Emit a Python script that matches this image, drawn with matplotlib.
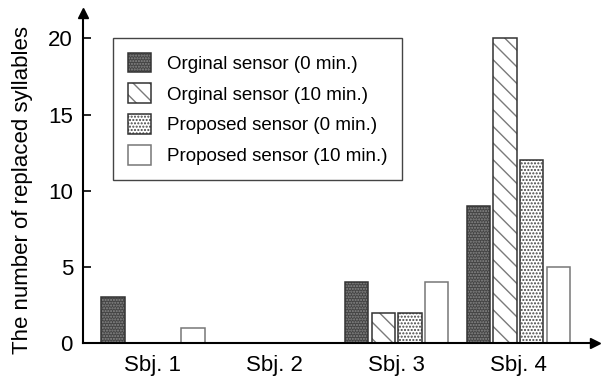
import matplotlib
matplotlib.use('Agg')
import matplotlib.pyplot as plt
import numpy as np
from matplotlib.patches import Patch
from matplotlib.legend_handler import HandlerTuple

# ============================================================
# Data: replaced syllables per subject and sensor condition
# ============================================================
subjects = ['Sbj. 1', 'Sbj. 2', 'Sbj. 3', 'Sbj. 4']
orig_0min = [3, 0, 4, 9]
orig_10min = [0, 0, 2, 20]
prop_0min = [0, 0, 2, 12]
prop_10min = [1, 0, 4, 5]
series_labels = ['Orginal sensor (0 min.)', 'Orginal sensor (10 min.)',
                 'Proposed sensor (0 min.)', 'Proposed sensor (10 min.)']
y_ticks = [0, 5, 10, 15, 20]

plt.rcParams['font.family'] = ['Liberation Sans', 'DejaVu Sans']
plt.rcParams['hatch.linewidth'] = 1.0

fig = plt.figure(figsize=(6.02, 3.85), dpi=100)
ax = fig.add_axes([0.1374, 0.1091, 0.851, 0.857])

x = np.arange(len(subjects))
width = 0.192
step = 0.219

# (face, hatch, hatch colour, edge colour)
styles = [
    ('#444444', '......', '#8a8a8a', '#333333'),
    ('white', '\\\\', '#7a7a7a', '#333333'),
    ('white', '.....', '#444444', '#333333'),
    ('white', '', '#777777', '#777777'),
]
series = [orig_0min, orig_10min, prop_0min, prop_10min]

for i, (vals, (face, hatch, hcol, ecol)) in enumerate(zip(series, styles)):
    pos = x + (i - 1.5) * step
    # fill + hatch layer (hatch takes the edge colour), then an outline layer
    ax.bar(pos, vals, width, color=face, hatch=hatch, edgecolor=hcol, linewidth=0, zorder=2)
    ax.bar(pos, vals, width, fill=False, edgecolor=ecol, linewidth=1.1, zorder=3)

# legend proxies so each handle shows fill, hatch and outline together
handles = []
for face, hatch, hcol, ecol in styles:
    handles.append((Patch(facecolor=face, hatch=hatch, edgecolor=hcol, linewidth=0),
                    Patch(fill=False, edgecolor=ecol, linewidth=1.1)))
leg = ax.legend(handles, series_labels, loc='upper left',
                bbox_to_anchor=(113 / 602, 1 - 38 / 385), bbox_transform=fig.transFigure,
                borderaxespad=0, fontsize=13.5, handlelength=1.23, handleheight=1.25,
                handletextpad=0.85, labelspacing=0.56, borderpad=0.78,
                fancybox=False, framealpha=1, edgecolor='#444444',
                handler_map={tuple: HandlerTuple(ndivide=1, pad=0)})
leg.get_frame().set_linewidth(1.0)

ax.set_xlim(-0.577, 3.629)
ax.set_ylim(0, 21.66)
ax.set_xticks(x)
ax.set_xticklabels(subjects, fontsize=16)
ax.set_yticks(y_ticks)
ax.tick_params(axis='y', direction='in', length=6, width=1.2, labelsize=16, pad=7)
ax.tick_params(axis='x', length=0, pad=9)

for side in ['top', 'right']:
    ax.spines[side].set_visible(False)
for side in ['left', 'bottom']:
    ax.spines[side].set_linewidth(1.5)
    ax.spines[side].set_zorder(4)

# arrow heads at the ends of the axes
ax.plot(1, 0, '>k', markersize=7, transform=ax.transAxes, clip_on=False, zorder=5)
ax.plot(0, 1, '^k', markersize=7, transform=ax.transAxes, clip_on=False, zorder=5)

ax.set_ylabel('The number of replaced syllables', fontsize=16)
ax.yaxis.set_label_coords(-0.098, 0.464)

fig.savefig('out.png', dpi=100)
